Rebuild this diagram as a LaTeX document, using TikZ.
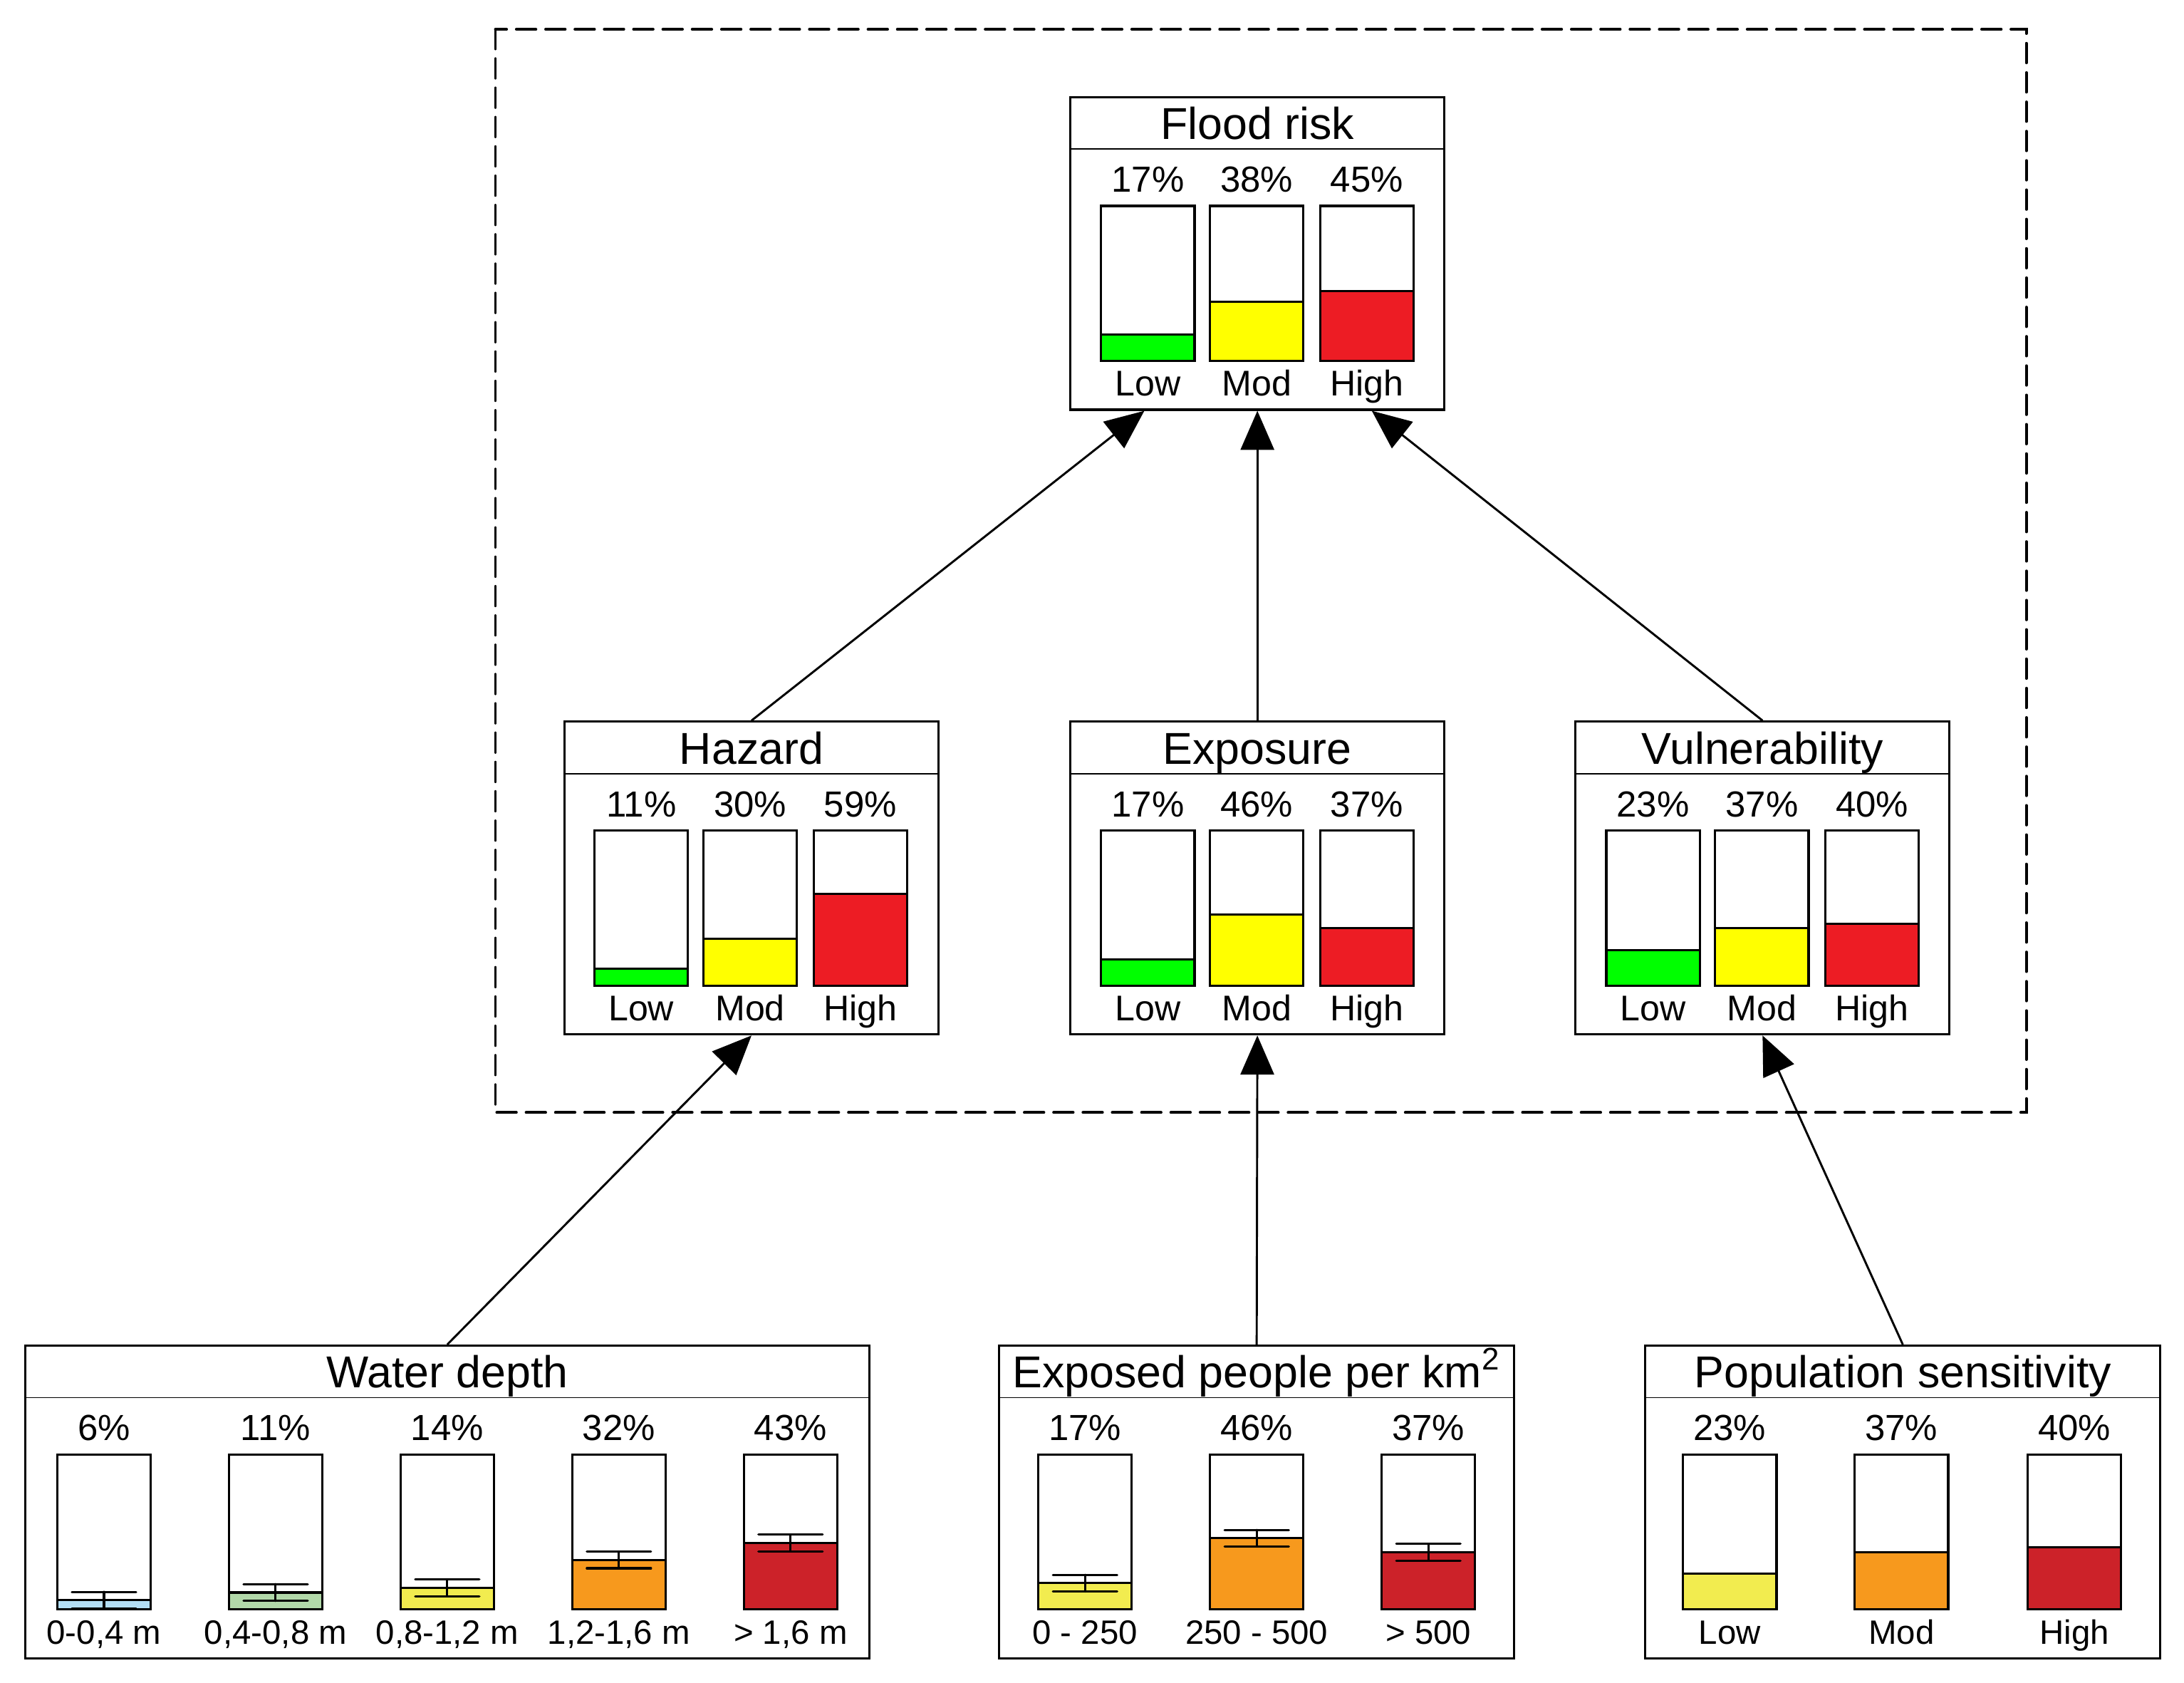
\documentclass[tikz,border=0pt]{standalone}
\usepackage{fontspec}
\setmainfont{Liberation Sans}
\usetikzlibrary{arrows.meta,calc}
\definecolor{gA}{HTML}{00FF00}
\definecolor{yA}{HTML}{FFFF00}
\definecolor{rA}{HTML}{ED1C24}
\definecolor{cA}{HTML}{B3DEF5}
\definecolor{cB}{HTML}{B2D9A9}
\definecolor{cC}{HTML}{F2EC4F}
\definecolor{cD}{HTML}{F7991D}
\definecolor{cE}{HTML}{CC2229}
\tikzset{
  netbox/.style={draw, line width=0.8pt, minimum height=112pt, inner sep=0pt, fill=white},
  sepline/.style={line width=0.5pt},
  barline/.style={line width=0.8pt},
  errline/.style={line width=0.8pt, line cap=round},
  ttlf/.style={anchor=base, inner sep=0pt, font=\fontsize{16}{19}\selectfont},
  ttlb/.style={anchor=base, inner sep=0pt, font=\fontsize{16}{19}\selectfont},
  pctf/.style={anchor=base, inner sep=0pt, font=\fontsize{13}{15}\selectfont},
  labt/.style={anchor=base, inner sep=0pt, font=\fontsize{12.8}{15}\selectfont},
  labb/.style={anchor=base, inner sep=0pt, font=\fontsize{12.1}{14}\selectfont},
  arr/.style={-{Triangle[length=14pt,width=12pt]}, line width=0.75pt},
  groupbox/.style={line width=1pt, line cap=round, dash pattern=on 7pt off 3.5pt}
}
% #1 name, #2 left x, #3 box top y, #4 pct, #5 colour, #6 label, #7 label style, #8 error bar (0/1)
\newcommand{\pbarx}[8]{%
  \pgfmathsetmacro{\pbT}{#3+78}%
  \pgfmathsetmacro{\pbB}{#3+189}%
  \pgfmathsetmacro{\pbL}{\pbB-1.11*#4}%
  \pgfmathsetmacro{\pbC}{#2+33.5}%
  \fill[#5] (#2,\pbL) rectangle (#2+67,\pbB);
  \draw[barline] (#2,\pbL) -- (#2+67,\pbL);
  \draw[barline] (#2,\pbT) rectangle (#2+67,\pbB);
  \ifnum#8>0
    \draw[errline] (\pbC-23,\pbL-6) -- (\pbC+23,\pbL-6)
                   (\pbC,\pbL-6) -- (\pbC,\pbL+6)
                   (\pbC-23,\pbL+6) -- (\pbC+23,\pbL+6);
  \fi
  \node[pctf] (#1-p) at (\pbC,#3+68) {#4\%};
  \node[#7] (#1-l) at (\pbC,#3+214) {#6};
}
\begin{document}
\begin{tikzpicture}[x=0.5pt, y=-0.5pt]
\useasboundingbox (0,0) rectangle (1565,1205.6);
\fill[white] (0,0) rectangle (1565,1205.6);

% dashed group
\draw[groupbox] (355,21) rectangle (1452,797);

% ---------- top row: Flood risk ----------
\node[netbox, minimum width=134pt] (flood) at (901,181.5) {};
\draw[sepline] ($(flood.north west)+(0,38)$) -- ($(flood.north east)+(0,38)$);
\node[ttlf] (flood-t) at (901,100) {Flood risk};
\pbarx{flood1}{789}{69.5}{17}{gA}{Low}{labt}{0}
\pbarx{flood2}{867}{69.5}{38}{yA}{Mod}{labt}{0}
\pbarx{flood3}{946}{69.5}{45}{rA}{High}{labt}{0}

% ---------- middle row ----------
\node[netbox, minimum width=134pt] (haz) at (538.5,629) {};
\draw[sepline] ($(haz.north west)+(0,38)$) -- ($(haz.north east)+(0,38)$);
\node[ttlf] (haz-t) at (538.5,547.5) {Hazard};
\pbarx{haz1}{426}{517}{11}{gA}{Low}{labt}{0}
\pbarx{haz2}{504}{517}{30}{yA}{Mod}{labt}{0}
\pbarx{haz3}{583}{517}{59}{rA}{High}{labt}{0}

\node[netbox, minimum width=134pt] (exp) at (901,629) {};
\draw[sepline] ($(exp.north west)+(0,38)$) -- ($(exp.north east)+(0,38)$);
\node[ttlf] (exp-t) at (901,547.5) {Exposure};
\pbarx{exp1}{789}{517}{17}{gA}{Low}{labt}{0}
\pbarx{exp2}{867}{517}{46}{yA}{Mod}{labt}{0}
\pbarx{exp3}{946}{517}{37}{rA}{High}{labt}{0}

\node[netbox, minimum width=134pt] (vul) at (1263,629) {};
\draw[sepline] ($(vul.north west)+(0,38)$) -- ($(vul.north east)+(0,38)$);
\node[ttlf] (vul-t) at (1263,547.5) {Vulnerability};
\pbarx{vul1}{1151}{517}{23}{gA}{Low}{labt}{0}
\pbarx{vul2}{1229}{517}{37}{yA}{Mod}{labt}{0}
\pbarx{vul3}{1308}{517}{40}{rA}{High}{labt}{0}

% ---------- bottom row ----------
\node[netbox, minimum width=302.5pt] (water) at (320.5,1076) {};
\draw[sepline] ($(water.north west)+(0,38)$) -- ($(water.north east)+(0,38)$);
\node[ttlb] (water-t) at (320.5,994) {Water depth};
\pbarx{water1}{41}{964}{6}{cA}{0-0,4 m}{labb}{1}
\pbarx{water2}{164}{964}{11}{cB}{0,4-0,8 m}{labb}{1}
\pbarx{water3}{287}{964}{14}{cC}{0,8-1,2 m}{labb}{1}
\pbarx{water4}{410}{964}{32}{cD}{1,2-1,6 m}{labb}{1}
\pbarx{water5}{533}{964}{43}{cE}{> 1,6 m}{labb}{1}

\node[netbox, minimum width=184.5pt] (expo) at (900.5,1076) {};
\draw[sepline] ($(expo.north west)+(0,38)$) -- ($(expo.north east)+(0,38)$);
\node[ttlb] (expo-t) at (900.5,994) {Exposed people per km\textsuperscript{2}};
\pbarx{expo1}{744}{964}{17}{cC}{0 - 250}{labb}{1}
\pbarx{expo2}{867}{964}{46}{cD}{250 - 500}{labb}{1}
\pbarx{expo3}{990}{964}{37}{cE}{> 500}{labb}{1}

\node[netbox, minimum width=184.5pt] (pop) at (1363.5,1076) {};
\draw[sepline] ($(pop.north west)+(0,38)$) -- ($(pop.north east)+(0,38)$);
\node[ttlb] (pop-t) at (1363.5,994) {Population sensitivity};
\pbarx{pop1}{1206}{964}{23}{cC}{Low}{labb}{0}
\pbarx{pop2}{1329}{964}{37}{cD}{Mod}{labb}{0}
\pbarx{pop3}{1453}{964}{40}{cE}{High}{labb}{0}

% ---------- connectors ----------
\draw[arr] (haz.north) -- ($(flood.south)+(-81,0)$);
\draw[arr] (exp.north) -- (flood.south);
\draw[arr] (vul.north) -- ($(flood.south)+(82,0)$);
\draw[arr] (water.north) -- (haz.south);
\draw[arr] (expo.north) -- (exp.south);
\draw[arr] (pop.north) -- (vul.south);
\end{tikzpicture}
\end{document}
